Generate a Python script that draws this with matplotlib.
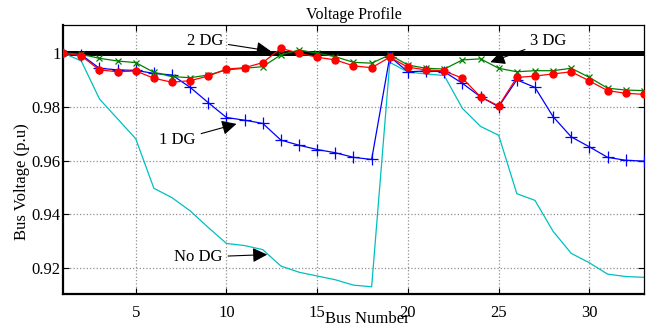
import matplotlib
matplotlib.use("Agg")
import matplotlib.pyplot as plt

plt.rcParams['font.family'] = ['Liberation Serif', 'DejaVu Serif']

bus = list(range(1, 34))

# voltage (p.u)
no_dg = [1.0000, 0.9970, 0.9829, 0.9755, 0.9681, 0.9497, 0.9462, 0.9413, 0.9351,
         0.9292, 0.9284, 0.9269, 0.9208, 0.9185, 0.9171, 0.9157, 0.9137, 0.9131,
         0.9965, 0.9929, 0.9922, 0.9916, 0.9794, 0.9727, 0.9694, 0.9477, 0.9452,
         0.9337, 0.9255, 0.9220, 0.9178, 0.9169, 0.9166]
one_dg = [1.0000, 0.9993, 0.9943, 0.9937, 0.9935, 0.9924, 0.9918, 0.9872, 0.9815,
          0.9760, 0.9750, 0.9738, 0.9676, 0.9657, 0.9641, 0.9629, 0.9612, 0.9604,
          0.9986, 0.9930, 0.9933, 0.9930, 0.9887, 0.9837, 0.9800, 0.9900, 0.9872,
          0.9763, 0.9688, 0.9651, 0.9612, 0.9601, 0.9598]
two_dg = [1.0000, 0.9989, 0.9937, 0.9930, 0.9933, 0.9906, 0.9891, 0.9897, 0.9914,
          0.9940, 0.9945, 0.9964, 1.0017, 0.9999, 0.9984, 0.9974, 0.9952, 0.9945,
          0.9984, 0.9947, 0.9937, 0.9933, 0.9906, 0.9837, 0.9803, 0.9909, 0.9914,
          0.9922, 0.9930, 0.9896, 0.9860, 0.9850, 0.9846]
three_dg = [1.0000, 0.9995, 0.9980, 0.9970, 0.9964, 0.9928, 0.9912, 0.9908, 0.9918,
            0.9937, 0.9943, 0.9949, 0.9993, 1.0011, 0.9999, 0.9986, 0.9965, 0.9962,
            0.9993, 0.9955, 0.9943, 0.9940, 0.9974, 0.9978, 0.9943, 0.9930, 0.9934,
            0.9934, 0.9943, 0.9909, 0.9869, 0.9862, 0.9860]

xticks = [5, 10, 15, 20, 25, 30]
yticks = [0.92, 0.94, 0.96, 0.98, 1.0]
ytick_labels = ['0.92', '0.94', '0.96', '0.98', '1']

fig = plt.figure(figsize=(6.51, 3.24), dpi=100)
ax = fig.add_axes([0.097, 0.0917, 0.892, 0.8313])

ax.axhline(1.0, color='k', lw=3.6, zorder=2)
ax.plot(bus, no_dg, color='#00BFBF', lw=0.9, zorder=2.5)
ax.plot(bus, one_dg, color='#0000FF', lw=0.9, marker='+', ms=8, mew=0.9, zorder=3)
ax.plot(bus, three_dg, color='#008000', lw=0.9, marker='x', ms=4.5, mew=0.9, zorder=4)
ax.plot(bus, two_dg, color='#FF0000', lw=0.9, marker='o', ms=5, zorder=5)

arrow = dict(arrowstyle='-|>', color='k', lw=0.8, mutation_scale=22)
ax.annotate('2 DG', xy=(12.6, 1.0005), xytext=(8.8, 1.0045), ha='center', va='center',
            fontsize=12, arrowprops=arrow, zorder=6)
ax.annotate('1 DG', xy=(10.7, 0.9739), xytext=(7.3, 0.9676), ha='center', va='center',
            fontsize=12, arrowprops=arrow, zorder=6)
ax.annotate('No DG', xy=(12.4, 0.9251), xytext=(8.45, 0.9241), ha='center', va='center',
            fontsize=12, arrowprops=arrow, zorder=6)
ax.annotate('3 DG', xy=(24.4, 0.9962), xytext=(27.75, 1.0045), ha='center', va='center',
            fontsize=12, arrowprops=arrow, zorder=6)

ax.set_xlim(1, 33)
ax.set_ylim(0.9103, 1.0104)
ax.set_xticks(xticks)
ax.set_yticks(yticks)
ax.set_yticklabels(ytick_labels)
ax.grid(True, color='#909090', linestyle=':', lw=0.9)
ax.tick_params(direction='in', top=True, right=True, length=4, labelsize=12)
ax.tick_params(axis='x', pad=8)
ax.tick_params(axis='y', pad=2)

for side in ['left', 'bottom']:
    ax.spines[side].set_linewidth(1.6)
for side in ['top', 'right']:
    ax.spines[side].set_linewidth(0.9)

ax.set_title('Voltage Profile', fontsize=11.5, pad=4)
ax.set_xlabel('Bus Number', fontsize=12, va='top')
ax.xaxis.set_label_coords(0.523, -0.062)
ax.set_ylabel('Bus Voltage (p.u)', fontsize=12, va='center')
ax.yaxis.set_label_coords(-0.0706, 0.42)

fig.savefig('out.png', dpi=100)
